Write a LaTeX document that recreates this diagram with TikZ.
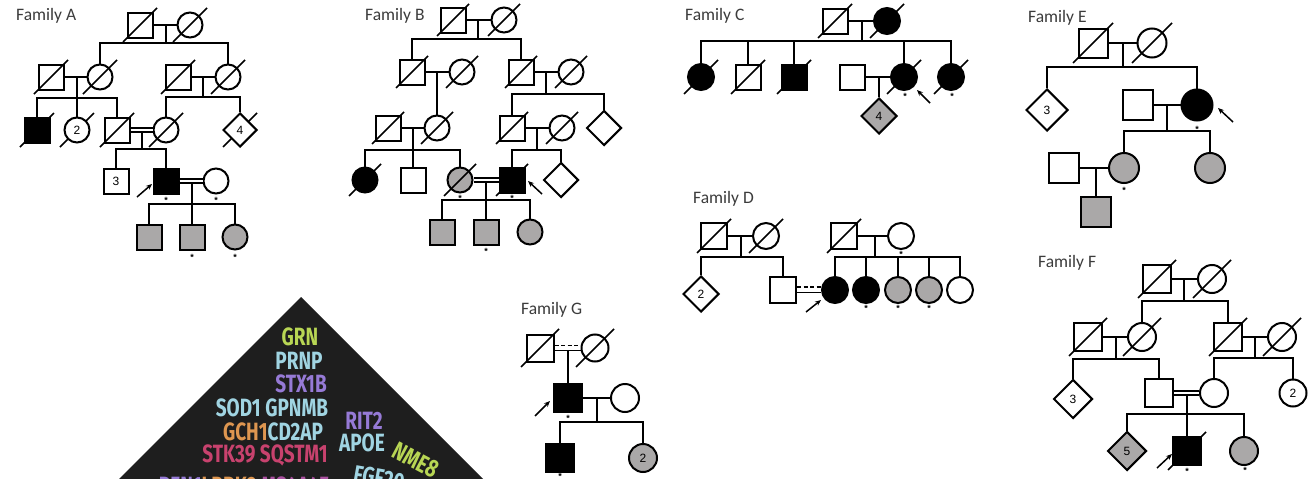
\documentclass[tikz,border=0pt]{standalone}
\usepackage{fontspec}
\usepackage{graphicx}
\usetikzlibrary{shapes.geometric,arrows.meta}
\newfontfamily\carlito{Carlito}
\newfontfamily\libsans{Liberation Sans}
\newfontfamily\fira{Fira Sans}
\definecolor{pedgray}{RGB}{170,168,168}
\definecolor{labgray}{RGB}{60,60,60}
\definecolor{tri}{RGB}{30,30,30}
\definecolor{gYel}{RGB}{184,214,84}
\definecolor{gBlue}{RGB}{160,212,226}
\definecolor{gPur}{RGB}{150,122,214}
\definecolor{gOra}{RGB}{222,150,80}
\definecolor{gPink}{RGB}{200,66,110}
\definecolor{gMag}{RGB}{170,80,160}
\pgfdeclarelayer{bg}
\pgfsetlayers{bg,main}
\newcommand\dec[2][17]{\draw[slashline] ([shift={(-#1,#1)}]#2.center) -- ([shift={(#1,-#1)}]#2.center);}
\tikzset{
  ln/.style={line width=2pt},
  thinln/.style={line width=1.4pt},
  sym/.style={draw, line width=2pt, inner sep=0pt, font=\libsans\fontsize{12}{12}\selectfont},
  M/.style={sym, rectangle, minimum size=#1},
  M/.default=25pt,
  F/.style={sym, circle, minimum size=#1},
  F/.default=25pt,
  U/.style={sym, diamond, minimum size=#1},
  U/.default=34pt,
  aff/.style={fill=black},
  car/.style={fill=pedgray},
  wht/.style={fill=white},
  slashline/.style={line width=1.6pt},
  cons/.style={line width=1.4pt, double distance=2.4pt},
  prob/.style={line width=1.5pt, -{Stealth[length=6pt,width=5pt]}},
  ast/.style={font=\libsans\bfseries\fontsize{9}{9}\selectfont, inner sep=0pt},
  fam/.style={font=\carlito\fontsize{17.5}{17.5}\selectfont, text=labgray, anchor=base west, inner sep=0pt},
  gene/.style={font=\fira\bfseries\fontsize{25}{25}\selectfont, inner sep=0pt},
}
\begin{document}
\begin{tikzpicture}[x=1pt,y=-1pt]
\begin{pgfonlayer}{bg}
\fill[white] (0,0) rectangle (1312,479);
\end{pgfonlayer}
\useasboundingbox (0,0) rectangle (1312,479);

% ================= Family A =================
\node[fam] (tA) at (16,20) {Family A};
\node[M] (A1) at (140,25) {}; \node[F] (A2) at (190,25) {};
\node[M] (A3) at (51,77) {}; \node[F] (A4) at (100,77) {};
\node[M] (A5) at (178,77) {}; \node[F] (A6) at (228,77) {};
\node[M,aff] (A7) at (37,130) {}; \node[F,wht] (A8) at (77,130) {2}; \node[M] (A9) at (117,130) {};
\node[F] (A10) at (166,130) {}; \node[U,wht] (A11) at (240,130) {4};
\node[M] (A12) at (116,181) {3}; \node[M,aff] (A13) at (166,181) {}; \node[F] (A14) at (216,181) {};
\node[M,car] (A15) at (149,237) {}; \node[M,car] (A16) at (192,237) {}; \node[F,car] (A17) at (235,237) {};
\foreach \n in {A1,A2,A3,A4,A5,A6,A7,A9,A10} {\dec{\n}}
\begin{pgfonlayer}{bg}
\dec{A8} \dec{A11}
\end{pgfonlayer}
\draw[ln] (A1) -- (A2);
\coordinate (mA1) at (166,25); \coordinate (sA1) at (166,43);
\draw[ln] (mA1) -- (sA1); \draw[ln] (A4.north) |- (sA1) -| (A6.north);
\draw[ln] (A3) -- (A4);
\coordinate (mA2) at (77,77); \coordinate (sA2) at (77,98);
\draw[ln] (mA2) -- (A8.north); \draw[ln] (A7.north) |- (sA2) -| (A9.north);
\draw[ln] (A5) -- (A6);
\coordinate (mA3) at (203,77); \coordinate (sA3) at (203,97);
\draw[ln] (mA3) -- (sA3); \draw[ln] (A10.north) |- (sA3) -| (A11.north);
\draw[cons] (A9) -- (A10);
\coordinate (mA4) at (142,132); \coordinate (sA4) at (142,149);
\draw[ln] (mA4) -- (sA4); \draw[ln] (A12.north) |- (sA4) -| (A13.north);
\draw[cons] (A13) -- (A14);
\coordinate (mA5) at (192,183); \coordinate (sA5) at (192,204);
\draw[ln] (mA5) -- (A16.north); \draw[ln] (A15.north) |- (sA5) -| (A17.north);
\node[ast] (aA1) at (166,200) {*}; \node[ast] (aA2) at (216,200) {*};
\node[ast] (aA3) at (192,257) {*}; \node[ast] (aA4) at (235,257) {*};
\coordinate (pA) at (137,197); \coordinate (pAh) at (152,184);
\draw[prob] (pA) -- (pAh);

% ================= Family B =================
\node[fam] (tB) at (365,20) {Family B};
\node[M] (B1) at (453,20) {}; \node[F] (B2) at (504,20) {};
\node[M] (B3) at (412,72) {}; \node[F] (B4) at (462,72) {};
\node[M] (B5) at (521,72) {}; \node[F] (B6) at (571,72) {};
\node[M] (B7) at (388,128) {}; \node[F] (B8) at (437,128) {};
\node[M] (B9) at (512,128) {}; \node[F] (B10) at (562,128) {}; \node[U=35pt] (B11) at (604,128) {};
\node[F,aff] (Ba) at (365,180) {}; \node[M] (Bb) at (413,180) {}; \node[F,car] (Bc) at (460,180) {};
\node[M,aff] (Bd) at (512,180) {}; \node[U=35pt] (Be) at (561,180) {};
\node[M,car] (Bf) at (442,232) {}; \node[M,car] (Bg) at (486,232) {}; \node[F,car] (Bh) at (530,232) {};
\foreach \n in {B1,B2,B3,B4,B5,B6,B7,B8,B9,B10,Ba,Bc,Bd} {\dec[16]{\n}}
\draw[ln] (B1) -- (B2);
\coordinate (mB1) at (478,20); \coordinate (sB1) at (478,39);
\draw[ln] (mB1) -- (sB1); \draw[ln] (B3.north) |- (sB1) -| (B5.north);
\draw[ln] (B3) -- (B4);
\coordinate (mB2) at (437,72); \draw[ln] (mB2) -- (B8.north);
\draw[ln] (B5) -- (B6);
\coordinate (mB3) at (546,72); \coordinate (sB3) at (546,94);
\draw[ln] (mB3) -- (sB3); \draw[ln] (B9.north) |- (sB3) -| (B11.north);
\draw[ln] (B7) -- (B8);
\coordinate (mB4) at (413,128); \coordinate (sB4) at (413,150);
\draw[ln] (mB4) -- (Bb.north); \draw[ln] (Ba.north) |- (sB4) -| (Bc.north);
\draw[ln] (B9) -- (B10);
\coordinate (mB5) at (537,128); \coordinate (sB5) at (537,150);
\draw[ln] (mB5) -- (sB5); \draw[ln] (Bd.north) |- (sB5) -| (Be.north);
\draw[cons] (Bc) -- (Bd);
\coordinate (mB6) at (486,182); \coordinate (sB6) at (486,200);
\draw[ln] (mB6) -- (Bg.north); \draw[ln] (Bf.north) |- (sB6) -| (Bh.north);
\node[ast] (aB1) at (460,198) {*}; \node[ast] (aB2) at (512,198) {*}; \node[ast] (aB3) at (486,251) {*};
\coordinate (pB) at (542,194); \coordinate (pBh) at (528,181);
\draw[prob] (pB) -- (pBh);

% ================= Family C =================
\node[fam] (tC) at (685,20) {Family C};
\node[M] (C1) at (835,21) {}; \node[F=26pt,aff] (C2) at (887,21) {};
\node[F=26pt,aff] (C3) at (701,77) {}; \node[M] (C4) at (748,77) {}; \node[M,aff] (C5) at (794,77) {};
\node[M] (C6) at (852,77) {}; \node[F=26pt,aff] (C7) at (904,77) {}; \node[F=26pt,aff] (C8) at (951,77) {};
\node[U=36pt,car] (C9) at (879,116) {4};
\foreach \n in {C1,C2,C3,C4,C5,C7,C8} {\dec{\n}}
\draw[ln] (C1) -- (C2);
\coordinate (mC1) at (862,21); \coordinate (sC1) at (862,41);
\draw[ln] (mC1) -- (sC1); \draw[ln] (C3.north) |- (sC1) -| (C8.north);
\foreach \n in {C4,C5,C7} {\draw[ln] (\n.north) -- (\n.north |- sC1);}
\draw[ln] (C6) -- (C7);
\coordinate (mC2) at (879,77); \draw[ln] (mC2) -- (C9.north);
\node[ast] (aC1) at (905,96) {*}; \node[ast] (aC2) at (952,96) {*};
\coordinate (pC) at (930,103); \coordinate (pCh) at (917,90);
\draw[prob] (pC) -- (pCh);

% ================= Family D =================
\node[fam] (tD) at (693,203) {Family D};
\node[M=26pt] (D1) at (714,236) {}; \node[F=26pt] (D2) at (766,236) {};
\node[U=36pt] (D3) at (701,294) {2}; \node[M=26pt] (D4) at (783,290) {};
\node[M=26pt] (D5) at (844,236) {}; \node[F=26pt] (D6) at (901,236) {};
\node[F=26pt,aff] (D7) at (835,290) {}; \node[F=26pt,aff] (D8) at (866,290) {};
\node[F=26pt,car] (D9) at (898,290) {}; \node[F=26pt,car] (D10) at (929,290) {};
\node[F=26pt] (D11) at (960,290) {};
\foreach \n in {D1,D2,D5} {\dec{\n}}
\draw[ln] (D1) -- (D2);
\coordinate (mD1) at (741,236); \coordinate (sD1) at (741,257);
\draw[ln] (mD1) -- (sD1); \draw[ln] (D3.north) |- (sD1) -| (D4.north);
\draw[ln] (D5) -- (D6);
\coordinate (mD2) at (875,236); \coordinate (sD2) at (875,257);
\draw[ln] (mD2) -- (sD2); \draw[ln] (D7.north) |- (sD2) -| (D11.north);
\foreach \n in {D8,D9,D10} {\draw[ln] (\n.north) -- (\n.north |- sD2);}
\draw[thinln, dash pattern=on 4pt off 2.5pt] ([yshift=3pt]D4.east) -- ([yshift=3pt]D7.west);
\draw[thinln] ([yshift=-2.5pt]D4.east) -- ([yshift=-2.5pt]D7.west);
\node[ast] (aD1) at (901,254) {*}; \node[ast] (aD2) at (866,308) {*};
\node[ast] (aD3) at (898,308) {*}; \node[ast] (aD4) at (929,308) {*};
\coordinate (pD) at (806,312); \coordinate (pDh) at (821,300);
\draw[prob] (pD) -- (pDh);

% ================= Family E =================
\node[fam] (tE) at (1028,23) {Family E};
\node[M=29pt] (E1) at (1093,43) {}; \node[F=29pt] (E2) at (1152,43) {};
\node[U=42pt] (E3) at (1047,110) {3}; \node[M=30pt] (E4) at (1138,105) {}; \node[F=31pt,aff] (E5) at (1197,105) {};
\node[M=30pt] (E6) at (1064,168) {}; \node[F=30pt,car] (E7) at (1124,168) {}; \node[F=30pt,car] (E8) at (1210,168) {};
\node[M=30pt,car] (E9) at (1096,212) {};
\foreach \n in {E1,E2} {\dec[20]{\n}}
\draw[ln] (E1) -- (E2);
\coordinate (mE1) at (1123,43); \coordinate (sE1) at (1123,67);
\draw[ln] (mE1) -- (sE1); \draw[ln] (E3.north) |- (sE1) -| (E5.north);
\draw[ln] (E4) -- (E5);
\coordinate (mE2) at (1167,105); \coordinate (sE2) at (1167,131);
\draw[ln] (mE2) -- (sE2); \draw[ln] (E7.north) |- (sE2) -| (E8.north);
\draw[ln] (E6) -- (E7);
\coordinate (mE3) at (1096,168); \draw[ln] (mE3) -- (E9.north);
\node[ast] (aE1) at (1197,129) {*}; \node[ast] (aE2) at (1124,190) {*};
\coordinate (pE) at (1233,122); \coordinate (pEh) at (1218,108);
\draw[prob] (pE) -- (pEh);

% ================= Family F =================
\node[fam] (tF) at (1038,267) {Family F};
\node[M=28pt] (F1) at (1157,279) {}; \node[F=28pt] (F2) at (1212,279) {};
\node[M=28pt] (F3) at (1088,337) {}; \node[F=28pt] (F4) at (1142,337) {};
\node[M=28pt] (F5) at (1228,337) {}; \node[F=28pt] (F6) at (1282,337) {};
\node[U=39pt] (F7) at (1073,399) {3}; \node[M=28pt] (F8) at (1159,393) {};
\node[F=28pt] (F9) at (1214,393) {}; \node[F=27pt] (F10) at (1293,393) {2};
\node[U=39pt,car] (F11) at (1127,451) {5}; \node[M=28pt,aff] (F12) at (1187,451) {};
\node[F=28pt,car] (F13) at (1244,451) {};
\foreach \n in {F1,F2,F3,F4,F5,F6,F12} {\dec[19]{\n}}
\draw[ln] (F1) -- (F2);
\coordinate (mF1) at (1184,279); \coordinate (sF1) at (1184,301);
\draw[ln] (mF1) -- (sF1); \draw[ln] (F4.north) |- (sF1) -| (F5.north);
\draw[ln] (F3) -- (F4);
\coordinate (mF2) at (1116,337); \coordinate (sF2) at (1116,359);
\draw[ln] (mF2) -- (sF2); \draw[ln] (F7.north) |- (sF2) -| (F8.north);
\draw[ln] (F5) -- (F6);
\coordinate (mF3) at (1255,337); \coordinate (sF3) at (1255,358);
\draw[ln] (mF3) -- (sF3); \draw[ln] (F9.north) |- (sF3) -| (F10.north);
\draw[cons] (F8) -- (F9);
\coordinate (mF4) at (1187,395); \coordinate (sF4) at (1187,414);
\draw[ln] (mF4) -- (F12.north); \draw[ln] (F11.north) |- (sF4) -| (F13.north);
\node[ast] (aF1) at (1187,471) {*}; \node[ast] (aF2) at (1245,470) {*};
\coordinate (pF) at (1157,468); \coordinate (pFh) at (1172,454);
\draw[prob] (pF) -- (pFh);

% ================= Family G =================
\node[fam] (tG) at (521,314) {Family G};
\node[M=27pt] (G1) at (540,348) {}; \node[F=27pt] (G2) at (595,348) {};
\node[M=28pt,aff] (G3) at (568,398) {}; \node[F=28pt] (G4) at (625,398) {};
\node[M=28pt,aff] (G5) at (560,458) {}; \node[F=28pt,car] (G6) at (643,458) {2};
\foreach \n in {G1,G2} {\dec[19]{\n}}
\draw[thinln, dash pattern=on 4pt off 2.5pt] ([yshift=2.5pt]G1.east) -- ([yshift=2.5pt]G2.west);
\draw[thinln] ([yshift=-2.5pt]G1.east) -- ([yshift=-2.5pt]G2.west);
\coordinate (mG1) at (568,351); \draw[ln] (mG1) -- (G3.north);
\draw[ln] (G3) -- (G4);
\coordinate (mG2) at (597,398); \coordinate (sG2) at (597,422);
\draw[ln] (mG2) -- (sG2); \draw[ln] (G5.north) |- (sG2) -| (G6.north);
\node[ast] (aG1) at (568,418) {*}; \node[ast] (aG2) at (560,476) {*};
\coordinate (pG) at (535,416); \coordinate (pGh) at (550,401);
\draw[prob] (pG) -- (pGh);

% ================= Gene triangle =================
\fill[tri] (301,297) -- (485,481) -- (117,481) -- cycle;
\node[gene,text=gYel] (gGRN) at (300,337) {\scalebox{0.76}[1]{GRN}};
\node[gene,text=gBlue] (gPRNP) at (299,361) {\scalebox{0.76}[1]{PRNP}};
\node[gene,text=gPur] (gSTX) at (301,384) {\scalebox{0.76}[1]{STX1B}};
\node[gene,text=gBlue] (gSOD) at (272,408) {\scalebox{0.76}[1]{SOD1 GPNMB}};
\node[gene,text=gPur] (gRIT) at (364,421) {\scalebox{0.76}[1]{RIT2}};
\node[gene] (gGCH) at (273,432) {\scalebox{0.76}[1]{\textcolor{gOra}{GCH1}\textcolor{gBlue}{CD2AP}}};
\node[gene,text=gBlue] (gAPOE) at (362,443) {\scalebox{0.76}[1]{APOE}};
\node[gene,text=gPink] (gSTK) at (265,455) {\scalebox{0.76}[1]{STK39 SQSTM1}};
\node[gene,text=gYel,rotate=-28] (gNME) at (416,460) {\scalebox{0.76}[1]{NME8}};
\node[gene,text=gBlue,rotate=-10] (gFGF) at (379,478) {\scalebox{0.76}[1]{FGF20}};
\node[gene] (gBot) at (244,486) {\scalebox{0.76}[1]{\textcolor{gPur}{PEN1}\textcolor{gOra}{LRRK2}\ \textcolor{gMag}{MS4A4E}}};
\end{tikzpicture}
\end{document}
